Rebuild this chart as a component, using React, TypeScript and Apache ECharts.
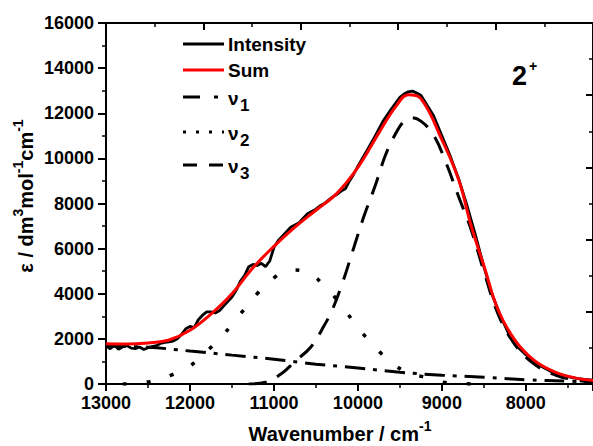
import React, { useEffect, useRef } from "react";
import * as echarts from "echarts";

// Measured spectrum (noisy)
const wnIntensity = [
  13000, 12950, 12900, 12850, 12800, 12750, 12700, 12650, 12600, 12550, 12500, 12450, 12400, 12350, 12300,
  12250, 12200, 12150, 12100, 12050, 12000, 11950, 11900, 11850, 11800, 11750, 11700, 11650, 11600, 11550,
  11500, 11450, 11400, 11350, 11300, 11250, 11200, 11150, 11100, 11050, 11000, 10950, 10900, 10850, 10800,
  10750, 10700, 10650, 10600, 10550, 10500, 10450, 10400, 10350, 10300, 10250, 10200, 10150, 10100, 10050,
  10000, 9900, 9800, 9700, 9600, 9500, 9450, 9400, 9350, 9300, 9250, 9200, 9100, 9000, 8900,
  8800, 8700, 8600, 8500, 8400, 8300, 8200, 8100, 8000, 7900, 7800, 7700, 7600, 7500, 7400,
  7300, 7200,
];
const intensity = [
  1700, 1560, 1720, 1540, 1650, 1700, 1590, 1570, 1640, 1530, 1610, 1660, 1700, 1800, 1840,
  1870, 1900, 2000, 2200, 2450, 2550, 2500, 2850, 3050, 3200, 3200, 3150, 3250, 3450, 3650,
  3850, 4150, 4550, 4800, 5200, 5300, 5250, 5350, 5200, 5450, 6050, 6350, 6550, 6750, 6950,
  7050, 7150, 7350, 7550, 7650, 7750, 7900, 8000, 8150, 8300, 8400, 8550, 8650, 9000, 9300,
  9650, 10300, 10950, 11650, 12200, 12700, 12850, 12950, 12980, 12900, 12800, 12500, 11900, 11000, 10100,
  9100, 7900, 6600, 5200, 3950, 3000, 2200, 1650, 1300, 1000, 750, 550, 430, 330, 250,
  200, 170,
];

// Fitted sum
const wnSum = [
  13000, 12750, 12500, 12250, 12000, 11750, 11500, 11250, 11000, 10750, 10500, 10250, 10000, 9750, 9550,
  9400, 9250, 9000, 8800, 8650, 8500, 8330, 8130, 7900, 7650, 7400, 7200,
];
const sum = [
  1780, 1770, 1820, 1950, 2380, 3100, 4000, 5150, 6100, 6950, 7700, 8450, 9600, 11130, 12290,
  12820, 12650, 10830, 9050, 7000, 5250, 3280, 1950, 1050, 530, 260, 160,
];

// Component nu1 (dash-dot)
const wnNu1 = [13000, 12500, 12000, 11500, 11000, 10500, 10000, 9500, 9000, 8500, 8000, 7500, 7200];
const nu1 = [1680, 1630, 1460, 1280, 1100, 880, 710, 520, 390, 300, 190, 125, 100];

// Component nu2 (dotted)
const wnNu2 = [
  12800, 12600, 12400, 12200, 12000, 11800, 11600, 11400, 11200, 11000, 10900, 10800, 10600, 10400, 10200,
  10000, 9800, 9600, 9400, 9200, 9000, 8800, 8500,
];
const nu2 = [
  0, 40, 180, 430, 800, 1450, 2200, 3100, 4000, 4700, 4960, 5050, 4950, 4350, 3500,
  2500, 1650, 950, 480, 300, 90, 20, 0,
];

// Component nu3 (dashed)
const wnNu3 = [
  11300, 11100, 10900, 10750, 10560, 10400, 10300, 10180, 10050, 9930, 9790, 9670, 9550, 9450, 9370,
  9250, 9100, 8950, 8800, 8650, 8500, 8330, 8130, 7900, 7650, 7400, 7200,
];
const nu3 = [
  0, 80, 490, 1000, 1640, 2600, 3330, 4520, 6030, 7410, 8830, 10160, 11100, 11650, 11800,
  11650, 11040, 9800, 8300, 6830, 5000, 3100, 1750, 880, 400, 170, 90,
];

const legendNames = ["Intensity", "Sum", "ν", "ν", "ν"];
const legendSubs = ["", "", "1", "2", "3"];

const FONT = "'Liberation Sans', Arial, sans-serif";

function pairs(xs: number[], ys: number[]) {
  return xs.map((x, i) => [x, ys[i]]);
}

export default function App() {
  const ref = useRef<HTMLDivElement>(null);

  useEffect(() => {
    if (!ref.current) return;
    const chart = echarts.init(ref.current, null, { renderer: "svg" });

    const axisLine = { show: true, onZero: false, lineStyle: { color: "#000", width: 2 } };
    const labelStyle = {
      fontSize: 18,
      fontWeight: "bold",
      fontFamily: FONT,
      color: "#000",
    };

    const legendY = [44, 70, 97, 132, 165];
    const legendDash: (number[] | null)[] = [null, null, [17, 14, 4, 20], [3, 10], [14, 12]];
    const legendColor = ["#000", "#ff0000", "#000", "#000", "#000"];

    const graphics: any[] = [];
    legendY.forEach((y, i) => {
      graphics.push({
        type: "line",
        shape: { x1: 183, y1: y, x2: 224, y2: y },
        style: {
          stroke: legendColor[i],
          lineWidth: 3,
          lineDash: legendDash[i] || undefined,
        },
        z: 10,
      });
      graphics.push({
        type: "text",
        x: 228,
        y: i < 2 ? y : y + 1,
        style: {
          text: legendNames[i],
          fill: "#000",
          font: `bold 19px ${FONT}`,
          textVerticalAlign: "middle",
          verticalAlign: "middle",
          textAlign: "left",
          align: "left",
        },
        z: 10,
      });
      if (legendSubs[i]) {
        graphics.push({
          type: "text",
          x: 240,
          y: y + 8,
          style: {
            text: legendSubs[i],
            fill: "#000",
            font: `bold 17px ${FONT}`,
            textVerticalAlign: "middle",
            verticalAlign: "middle",
            textAlign: "left",
            align: "left",
          },
          z: 10,
        });
      }
    });

    // "2+" label
    graphics.push({
      type: "text",
      x: 512,
      y: 76,
      style: {
        text: "2",
        fill: "#000",
        font: `bold 27px ${FONT}`,
        textVerticalAlign: "middle",
        verticalAlign: "middle",
      },
      z: 10,
    });
    graphics.push({
      type: "text",
      x: 529,
      y: 66,
      style: {
        text: "+",
        fill: "#000",
        font: `bold 14px ${FONT}`,
        textVerticalAlign: "middle",
        verticalAlign: "middle",
      },
      z: 10,
    });

    const richTitle = {
      b: { fontSize: 20, fontWeight: "bold", fontFamily: FONT, lineHeight: 30, fill: "#000", color: "#000" },
      s: { fontSize: 14, fontWeight: "bold", fontFamily: FONT, verticalAlign: "top", fill: "#000", color: "#000" },
    };

    // x axis title
    graphics.push({
      type: "text",
      x: 340,
      y: 434,
      style: {
        text: "{b|Wavenumber / cm}{s|-1}",
        rich: richTitle,
        textAlign: "center",
        align: "center",
        textVerticalAlign: "middle",
        verticalAlign: "middle",
      },
      z: 10,
    });
    // y axis title
    graphics.push({
      type: "text",
      x: 26,
      y: 196,
      rotation: Math.PI / 2,
      style: {
        text: "{b|ε / dm}{s|3}{b|mol}{s|-1}{b|cm}{s|-1}",
        rich: richTitle,
        textAlign: "center",
        align: "center",
        textVerticalAlign: "middle",
        verticalAlign: "middle",
      },
      z: 10,
    });

    chart.setOption({
      animation: false,
      backgroundColor: "#fff",
      textStyle: { fontFamily: FONT },
      grid: { left: 106, right: -3, top: 23, bottom: 62 },
      xAxis: [
        {
          type: "value",
          min: 7200,
          max: 13000,
          inverse: true,
          splitNumber: 6,
          position: "bottom",
          axisLine,
          axisTick: { show: true, inside: false, length: 7, lineStyle: { color: "#000", width: 2 } },
          minorTick: { show: true, splitNumber: 2, length: 4, lineStyle: { color: "#000", width: 1.5 } },
          splitLine: { show: false },
          minorSplitLine: { show: false },
          axisLabel: {
            ...labelStyle,
            margin: 10,
            showMinLabel: false,
            formatter: (v: number) => (v % 1000 === 0 ? String(v) : ""),
          },
        },
        {
          type: "value",
          min: 0,
          max: 5,
          interval: 1,
          position: "top",
          axisLine,
          axisTick: { show: true, inside: true, length: 7, lineStyle: { color: "#000", width: 2 } },
          minorTick: { show: true, splitNumber: 2, length: 4, lineStyle: { color: "#000", width: 1.5 } },
          splitLine: { show: false },
          axisLabel: { show: false },
        },
      ],
      yAxis: [
        {
          type: "value",
          min: 0,
          max: 16000,
          interval: 2000,
          position: "left",
          axisLine,
          axisTick: { show: true, inside: false, length: 8, lineStyle: { color: "#000", width: 2 } },
          minorTick: { show: true, splitNumber: 2, length: 4, lineStyle: { color: "#000", width: 1.5 } },
          splitLine: { show: false },
          axisLabel: { ...labelStyle, margin: 12, formatter: (v: number) => String(v) },
        },
        {
          type: "value",
          min: 0,
          max: 5,
          interval: 1,
          position: "right",
          axisLine,
          axisTick: { show: true, inside: true, length: 7, lineStyle: { color: "#000", width: 2 } },
          minorTick: { show: true, splitNumber: 2, length: 4, lineStyle: { color: "#000", width: 1.5 } },
          splitLine: { show: false },
          axisLabel: { show: false },
        },
      ],
      series: [
        {
          name: "ν1",
          type: "line",
          data: pairs(wnNu1, nu1),
          showSymbol: false,
          smooth: 0.4,
          lineStyle: { color: "#000", width: 3, type: [20, 8, 4, 8] },
          z: 2,
        },
        {
          name: "ν2",
          type: "line",
          data: pairs(wnNu2, nu2),
          showSymbol: false,
          smooth: 0.4,
          lineStyle: { color: "#000", width: 3.5, type: [4, 20] },
          z: 2,
        },
        {
          name: "ν3",
          type: "line",
          data: pairs(wnNu3, nu3),
          showSymbol: false,
          smooth: 0.4,
          lineStyle: { color: "#000", width: 3, type: [18, 12] },
          z: 2,
        },
        {
          name: "Intensity",
          type: "line",
          data: pairs(wnIntensity, intensity),
          showSymbol: false,
          lineStyle: { color: "#000", width: 2.8 },
          z: 3,
        },
        {
          name: "Sum",
          type: "line",
          data: pairs(wnSum, sum),
          showSymbol: false,
          smooth: 0.4,
          lineStyle: { color: "#ff0000", width: 3 },
          z: 4,
        },
      ],
      graphic: graphics,
    });

    return () => chart.dispose();
  }, []);

  return (
    <div
      ref={ref}
      style={{ position: "fixed", left: 0, top: 0, width: 593, height: 446, background: "#fff" }}
    />
  );
}
